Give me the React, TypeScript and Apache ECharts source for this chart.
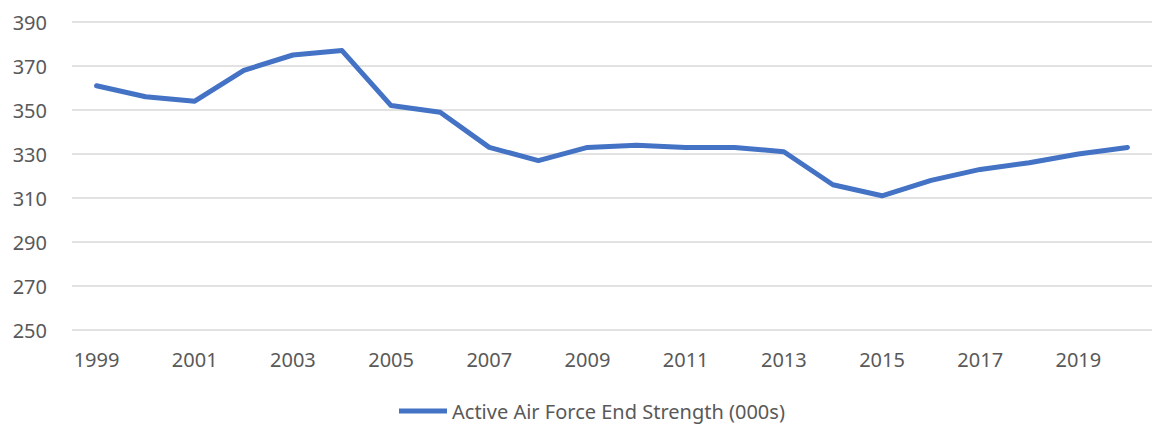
import React, { useEffect, useRef } from "react";
import * as echarts from "echarts";

const years = ["1999","2000","2001","2002","2003","2004","2005","2006","2007","2008","2009","2010","2011","2012","2013","2014","2015","2016","2017","2018","2019","2020"];
const strength = [361,356,354,368,375,377,352,349,333,327,333,334,333,333,331,316,311,318,323,326,330,333];
const seriesName = "Active Air Force End Strength (000s)";

export default function App() {
  const ref = useRef<HTMLDivElement>(null);
  useEffect(() => {
    if (!ref.current) return;
    const chart = echarts.init(ref.current, null, { renderer: "svg" });
    const font = "'Source Sans Pro', 'Noto Sans', sans-serif";
    chart.setOption({
      animation: false,
      backgroundColor: "#ffffff",
      textStyle: { fontFamily: font },
      grid: { left: 72, right: 7, top: 22, bottom: 98, containLabel: false },
      legend: {
        data: [{ name: seriesName, icon: "rect" }],
        left: 399,
        top: 401,
        padding: 0,
        itemWidth: 48,
        itemHeight: 5,
        itemGap: 6,
        textStyle: { color: "#595959", fontSize: 20, fontFamily: font },
      },
      xAxis: {
        type: "category",
        data: years,
        boundaryGap: true,
        axisLine: { show: false },
        axisTick: { show: false },
        axisLabel: { interval: 1, color: "#595959", fontSize: 20, margin: 19, fontFamily: font },
      },
      yAxis: {
        type: "value",
        min: 250,
        max: 390,
        interval: 20,
        axisLine: { show: false },
        axisTick: { show: false },
        axisLabel: { color: "#595959", fontSize: 20, margin: 25, fontFamily: font },
        splitLine: { lineStyle: { color: "#d9d9d9", width: 1.5 } },
      },
      series: [
        {
          name: seriesName,
          type: "line",
          data: strength,
          showSymbol: false,
          symbol: "none",
          lineStyle: { color: "#4472C4", width: 5, join: "round", cap: "round" },
          itemStyle: { color: "#4472C4" },
        },
      ],
    });
    return () => chart.dispose();
  }, []);
  return <div ref={ref} style={{ position: "fixed", left: 0, top: 0, width: 1159, height: 428 }} />;
}
